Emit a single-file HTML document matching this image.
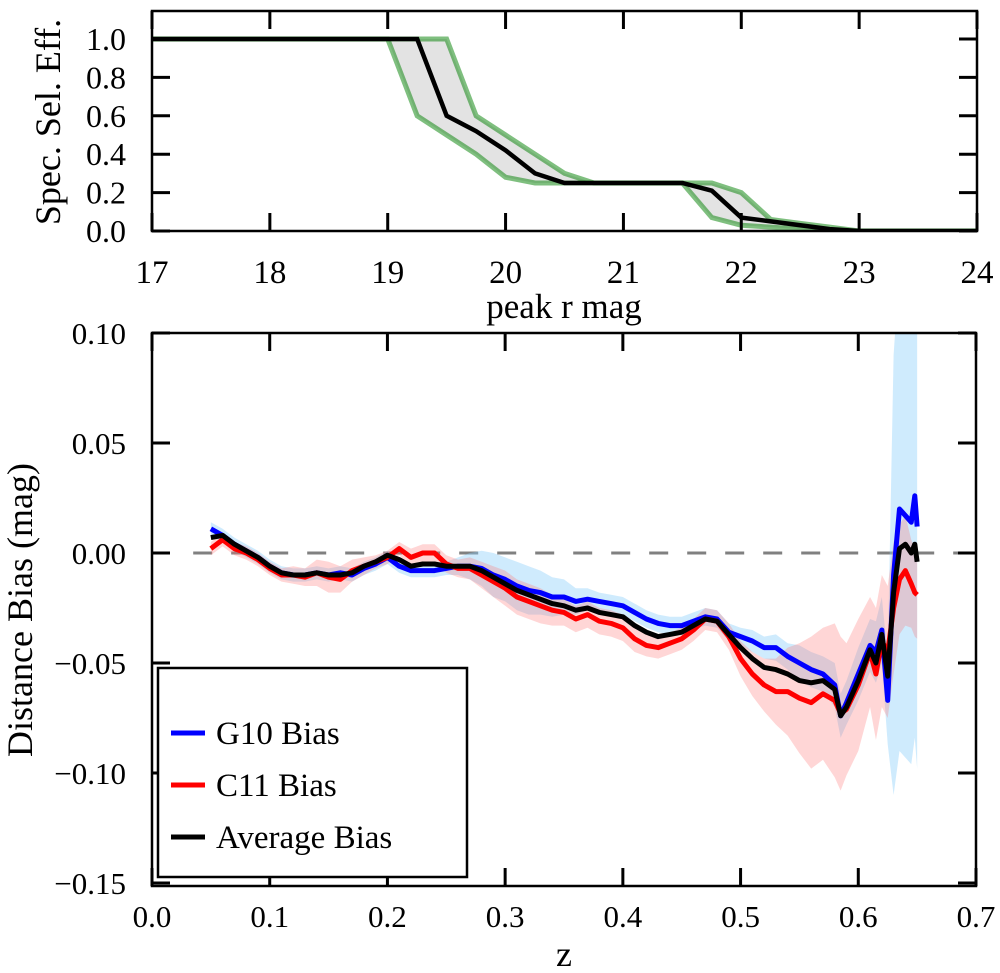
<!DOCTYPE html>
<html><head><meta charset="utf-8"><style>
body{margin:0;background:#fff;}
svg{display:block;font-family:"Liberation Serif",serif;}
</style></head><body>
<svg id="c" width="1000" height="973" viewBox="0 0 1000 973"></svg>
<script>
// ---- top panel data ----
const magX = [17,19,19.25,19.5,19.75,20,20.25,20.5,20.75,21,21.25,21.5,21.75,22,22.25,22.5,22.75,23,24];
const effMean = [1,1,1,0.6,0.52,0.42,0.3,0.25,0.25,0.25,0.25,0.25,0.21,0.07,0.05,0.03,0.01,0,0];
const effUpper = [1,1,1,1,0.6,0.5,0.4,0.3,0.25,0.25,0.25,0.25,0.25,0.2,0.06,0.04,0.02,0,0];
const effLower = [1,1,0.6,0.5,0.4,0.28,0.25,0.25,0.25,0.25,0.25,0.25,0.07,0.03,0.02,0.01,0,0,0];
const topXTicks = [17,18,19,20,21,22,23,24];
const topYTicks = [0,0.2,0.4,0.6,0.8,1.0];
// ---- bottom panel data ----
const zVals = [0.05,0.06,0.07,0.08,0.09,0.10,0.11,0.12,0.13,0.14,0.15,0.16,0.17,0.18,0.19,0.20,0.21,0.22,0.23,0.24,0.25,0.26,0.27,0.28,0.29,0.30,0.31,0.32,0.33,0.34,0.35,0.36,0.37,0.38,0.39,0.40,0.41,0.42,0.43,0.44,0.45,0.46,0.47,0.48,0.49,0.50,0.51,0.52,0.53,0.54,0.55,0.56,0.57,0.58,0.585,0.59,0.60,0.61,0.615,0.62,0.625,0.63,0.635,0.64,0.645,0.648,0.65];
const g10Bias = [0.011,0.008,0.004,0.001,-0.002,-0.006,-0.009,-0.010,-0.010,-0.009,-0.010,-0.009,-0.010,-0.007,-0.005,-0.002,-0.006,-0.008,-0.008,-0.008,-0.007,-0.006,-0.006,-0.007,-0.010,-0.012,-0.015,-0.017,-0.018,-0.020,-0.020,-0.022,-0.021,-0.022,-0.023,-0.024,-0.027,-0.030,-0.032,-0.033,-0.033,-0.031,-0.029,-0.030,-0.036,-0.038,-0.040,-0.043,-0.043,-0.047,-0.050,-0.053,-0.055,-0.060,-0.074,-0.068,-0.055,-0.042,-0.045,-0.035,-0.067,-0.010,0.020,0.017,0.014,0.026,0.012];
const c11Bias = [0.002,0.006,0.002,0.000,-0.003,-0.007,-0.010,-0.010,-0.011,-0.009,-0.011,-0.012,-0.008,-0.006,-0.004,-0.002,0.002,-0.002,0.000,0.000,-0.005,-0.007,-0.007,-0.010,-0.013,-0.016,-0.020,-0.022,-0.024,-0.026,-0.027,-0.030,-0.028,-0.031,-0.032,-0.034,-0.039,-0.042,-0.043,-0.041,-0.039,-0.035,-0.030,-0.031,-0.038,-0.048,-0.055,-0.060,-0.063,-0.063,-0.066,-0.068,-0.064,-0.067,-0.073,-0.071,-0.060,-0.045,-0.055,-0.040,-0.045,-0.025,-0.012,-0.008,-0.014,-0.018,-0.019];
const avgBias = [0.007,0.008,0.004,0.001,-0.002,-0.006,-0.009,-0.010,-0.010,-0.009,-0.010,-0.010,-0.009,-0.006,-0.004,-0.001,-0.003,-0.006,-0.005,-0.005,-0.006,-0.006,-0.006,-0.008,-0.011,-0.014,-0.017,-0.019,-0.021,-0.023,-0.024,-0.026,-0.025,-0.027,-0.028,-0.029,-0.033,-0.036,-0.038,-0.037,-0.036,-0.033,-0.030,-0.031,-0.037,-0.043,-0.048,-0.052,-0.053,-0.055,-0.058,-0.059,-0.058,-0.062,-0.074,-0.070,-0.058,-0.044,-0.050,-0.037,-0.056,-0.018,0.002,0.004,0.000,0.004,-0.004];
const g10Err = [0.003,0.003,0.003,0.003,0.003,0.003,0.003,0.003,0.003,0.003,0.003,0.003,0.003,0.003,0.003,0.003,0.003,0.003,0.003,0.003,0.003,0.004,0.006,0.008,0.010,0.010,0.011,0.011,0.010,0.009,0.008,0.006,0.005,0.004,0.004,0.004,0.004,0.004,0.004,0.004,0.004,0.004,0.004,0.004,0.004,0.004,0.005,0.005,0.006,0.006,0.008,0.008,0.008,0.010,0.010,0.010,0.012,0.012,0.014,0.015,0.020,0.100,0.110,0.110,0.110,0.110,0.110];
const c11Err = [0.003,0.003,0.003,0.003,0.003,0.003,0.003,0.004,0.004,0.006,0.007,0.006,0.005,0.004,0.003,0.003,0.003,0.004,0.004,0.004,0.004,0.004,0.005,0.006,0.007,0.008,0.008,0.008,0.008,0.007,0.006,0.006,0.006,0.006,0.006,0.006,0.006,0.005,0.005,0.005,0.005,0.005,0.005,0.005,0.006,0.008,0.010,0.012,0.015,0.020,0.025,0.030,0.030,0.035,0.035,0.030,0.030,0.025,0.030,0.030,0.030,0.030,0.025,0.025,0.020,0.020,0.020];
const botXTicks = [0.0,0.1,0.2,0.3,0.4,0.5,0.6,0.7];
const botYTicks = [-0.15,-0.10,-0.05,0.00,0.05,0.10];

const svg = document.getElementById('c');
const NS = 'http://www.w3.org/2000/svg';
function mk(tag, attrs, parent){const e=document.createElementNS(NS,tag);for(const k in attrs)e.setAttribute(k,attrs[k]);(parent||svg).appendChild(e);return e;}
function fmt(v,d){const s=Math.abs(v).toFixed(d);return (v<0?'\u2212':'')+s;}

// ---- top panel ----
const T={l:152,r:977,t:11,b:231};
const tx=v=>T.l+(v-17)/7*(T.r-T.l);
const ty=v=>231-v*192;
const gTop=mk('g',{});


const clipT=mk('clipPath',{id:'ct'},gTop);mk('rect',{x:T.l,y:T.t,width:T.r-T.l,height:T.b-T.t},clipT);
const gTc=mk('g',{'clip-path':'url(#ct)'},gTop);
let bandPts=magX.map((m,i)=>tx(m)+','+ty(effUpper[i])).concat(magX.map((m,i)=>tx(m)+','+ty(effLower[i])).reverse());
const band=mk('polygon',{points:bandPts.join(' '),fill:'#e3e3e3',stroke:'none'},gTc);


const up=mk('polyline',{points:magX.map((m,i)=>tx(m)+','+ty(effUpper[i])).join(' '),fill:'none',stroke:'rgba(0,128,0,0.5)','stroke-width':5,'stroke-linejoin':'miter'},gTc);


const lo=mk('polyline',{points:magX.map((m,i)=>tx(m)+','+ty(effLower[i])).join(' '),fill:'none',stroke:'rgba(0,128,0,0.5)','stroke-width':5},gTc);


const mn=mk('polyline',{points:magX.map((m,i)=>tx(m)+','+ty(effMean[i])).join(' '),fill:'none',stroke:'#000','stroke-width':4.5},gTc);


mk('rect',{x:T.l,y:T.t,width:T.r-T.l,height:T.b-T.t,fill:'none',stroke:'#000','stroke-width':2.5},gTop);
topXTicks.forEach(v=>{const x=tx(v);
 mk('line',{x1:x,x2:x,y1:T.b,y2:T.b-18,stroke:'#000','stroke-width':3},gTop);
 mk('line',{x1:x,x2:x,y1:T.t,y2:T.t+18,stroke:'#000','stroke-width':3},gTop);
 const t=mk('text',{x:x,y:283,'text-anchor':'middle','font-size':33},gTop);t.textContent=v;
 
 });
topYTicks.forEach(v=>{const y=ty(v);
 mk('line',{x1:T.l,x2:T.l+18,y1:y,y2:y,stroke:'#000','stroke-width':3},gTop);
 mk('line',{x1:T.r,x2:T.r-18,y1:y,y2:y,stroke:'#000','stroke-width':3},gTop);
 const t=mk('text',{x:126,y:y+11,'text-anchor':'end','font-size':32},gTop);t.textContent=v.toFixed(1);
 
 });
const tyt=mk('text',{transform:'translate(60,122) rotate(-90)','text-anchor':'middle','font-size':36},gTop);tyt.textContent='Spec. Sel. Eff.';


const txt=mk('text',{x:564,y:318,'text-anchor':'middle','font-size':35},gTop);txt.textContent='peak r mag';



// ---- bottom panel ----
const B={l:152,r:976,t:333,b:886};
const bx=v=>B.l+v/0.7*(B.r-B.l);
const by=v=>553-v*2200;
const gB=mk('g',{});


const clipB=mk('clipPath',{id:'cb'},gB);mk('rect',{x:B.l,y:B.t,width:B.r-B.l,height:B.b-B.t},clipB);
const gBc=mk('g',{'clip-path':'url(#cb)'},gB);
const zl=mk('line',{x1:bx(0.035),x2:B.r,y1:by(0),y2:by(0),stroke:'#808080','stroke-width':3,'stroke-dasharray':'19,19'},gBc);


function bandPoly(vals,err,fill,name){
 const pts=zVals.map((z,i)=>bx(z)+','+by(vals[i]+err[i])).concat(zVals.map((z,i)=>bx(z)+','+by(vals[i]-err[i])).reverse());
 const p=mk('polygon',{points:pts.join(' '),fill:fill,stroke:'none'},gBc);
 
 }
bandPoly(g10Bias,g10Err,'rgba(135,206,250,0.4)','g10-error-band');
bandPoly(c11Bias,c11Err,'rgba(255,120,120,0.3)','c11-error-band');
function line(vals,col,name){
 const p=mk('polyline',{points:zVals.map((z,i)=>bx(z)+','+by(vals[i])).join(' '),fill:'none',stroke:col,'stroke-width':5,'stroke-linejoin':'round'},gBc);
 
 }
line(g10Bias,'#0000ff','g10-bias-line');
line(c11Bias,'#ff0000','c11-bias-line');
line(avgBias,'#000000','average-bias-line');
mk('rect',{x:B.l,y:B.t,width:B.r-B.l,height:B.b-B.t,fill:'none',stroke:'#000','stroke-width':2.5},gB);
botXTicks.forEach(v=>{const x=bx(v);
 mk('line',{x1:x,x2:x,y1:B.b,y2:B.b-18,stroke:'#000','stroke-width':3},gB);
 mk('line',{x1:x,x2:x,y1:B.t,y2:B.t+18,stroke:'#000','stroke-width':3},gB);
 const t=mk('text',{x:x,y:927,'text-anchor':'middle','font-size':31},gB);t.textContent=v.toFixed(1);
 
 });
botYTicks.forEach(v=>{const y=by(v);
 mk('line',{x1:B.l,x2:B.l+18,y1:y,y2:y,stroke:'#000','stroke-width':3},gB);
 mk('line',{x1:B.r,x2:B.r-18,y1:y,y2:y,stroke:'#000','stroke-width':3},gB);
 const t=mk('text',{x:126,y:y+11,'text-anchor':'end','font-size':31},gB);t.textContent=fmt(v,2);
 
 });
const byt=mk('text',{transform:'translate(32,610) rotate(-90)','text-anchor':'middle','font-size':36},gB);byt.textContent='Distance Bias (mag)';


const bxt=mk('text',{x:564,y:966,'text-anchor':'middle','font-size':36},gB);bxt.textContent='z';



// legend
const gL=mk('g',{});


mk('rect',{x:158,y:668,width:309,height:209,fill:'#fff',stroke:'#000','stroke-width':2.5},gL);
const legNames=['G10 Bias','C11 Bias','Average Bias'];
const legCols=['#0000ff','#ff0000','#000000'];
legNames.forEach((n,i)=>{const y=733+i*52;
 const g=mk('g',{},gL);
 
 
 mk('line',{x1:171,x2:205,y1:y,y2:y,stroke:legCols[i],'stroke-width':5},g);
 const t=mk('text',{x:216,y:y+11,'font-size':33},g);t.textContent=n;});
</script>
</body></html>
